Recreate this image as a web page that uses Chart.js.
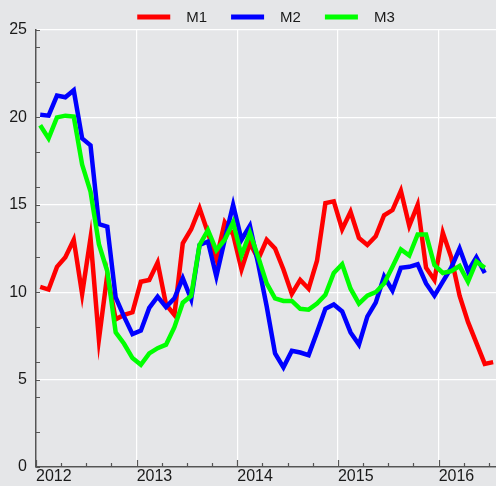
<!DOCTYPE html>
<html>
<head>
<meta charset="utf-8">
<script src="https://cdn.jsdelivr.net/npm/chart.js@4.4.1/dist/chart.umd.min.js"></script>
<style>
html, body { margin: 0; padding: 0; background: #e5e6e8; }
#wrap { width: 496px; height: 486px; position: relative; }
canvas { display: block; }
</style>
</head>
<body>
<div id="wrap"><canvas id="c" width="496" height="486"></canvas></div>
<script>
// ---- data ----
const months = [
  '2012-01','2012-02','2012-03','2012-04','2012-05','2012-06','2012-07','2012-08','2012-09','2012-10','2012-11','2012-12',
  '2013-01','2013-02','2013-03','2013-04','2013-05','2013-06','2013-07','2013-08','2013-09','2013-10','2013-11','2013-12',
  '2014-01','2014-02','2014-03','2014-04','2014-05','2014-06','2014-07','2014-08','2014-09','2014-10','2014-11','2014-12',
  '2015-01','2015-02','2015-03','2015-04','2015-05','2015-06','2015-07','2015-08','2015-09','2015-10','2015-11','2015-12',
  '2016-01','2016-02','2016-03','2016-04','2016-05','2016-06','2016-07'
];
const seriesNames = ['M1', 'M2', 'M3'];
const seriesColors = ['#ff0000', '#0000ff', '#00ff00'];
const m1 = [10.3, 10.15, 11.45, 12.0, 13.0, 9.9, 13.1, 7.3, 11.0, 8.45, 8.7, 8.85,
            10.6, 10.7, 11.7, 9.3, 8.7, 12.8, 13.6, 14.8, 13.4, 11.9, 14.0, 13.3,
            11.3, 12.8, 11.9, 13.0, 12.5, 11.3, 9.9, 10.7, 10.2, 11.8, 15.1, 15.2,
            13.6, 14.6, 13.1, 12.7, 13.2, 14.4, 14.7, 15.8, 13.8, 15.0, 11.4, 10.7,
            13.4, 12.0, 9.8, 8.3, 7.1, 5.9, 6.0];
const m2 = [20.15, 20.1, 21.25, 21.15, 21.55, 18.8, 18.4, 13.9, 13.75, 9.7, 8.6, 7.6,
            7.8, 9.1, 9.75, 9.15, 9.65, 10.8, 9.6, 12.7, 12.9, 10.9, 13.0, 15.0,
            13.0, 13.8, 11.6, 9.2, 6.5, 5.7, 6.65, 6.55, 6.4, 7.7, 9.05, 9.3,
            8.9, 7.7, 7.0, 8.6, 9.4, 10.9, 10.1, 11.4, 11.45, 11.6, 10.5, 9.8,
            10.6, 11.4, 12.5, 11.2, 12.0, 11.1];
const m3 = [19.55, 18.8, 20.0, 20.1, 20.05, 17.3, 15.75, 12.75, 11.2, 7.7, 7.05, 6.23,
            5.85, 6.5, 6.8, 7.0, 8.0, 9.4, 9.8, 12.7, 13.55, 12.4, 13.0, 14.0,
            12.1, 13.4, 12.0, 10.5, 9.65, 9.5, 9.5, 9.05, 9.0, 9.35, 9.85, 11.1,
            11.6, 10.2, 9.35, 9.8, 10.0, 10.5, 11.45, 12.45, 12.1, 13.3, 13.3, 11.55,
            11.1, 11.2, 11.5, 10.6, 11.75, 11.4];
const yearTicks = [2012, 2013, 2014, 2015, 2016];
const yTickLabels = [0, 5, 10, 15, 20, 25];
const xMin = 2012, xMax = 2016.57;
const yMin = 0, yMax = 25;

// ---- helpers ----
function monthToX(s) { const p = s.split('-').map(Number); return p[0] + (p[1] - 0.5) / 12; }
const toPoints = vals => vals.map((v, i) => ({ x: monthToX(months[i]), y: v }));
const seriesValues = [m1, m2, m3];

const FONT = '"Liberation Sans", Arial, Helvetica, sans-serif';
const BG = '#e5e6e8';
const AXIS = '#555555';
const TEXT = '#1a1a1a';

const bgPlugin = {
  id: 'bg',
  beforeDraw(chart) {
    const { ctx } = chart;
    ctx.save();
    ctx.fillStyle = BG;
    ctx.fillRect(0, 0, chart.width, chart.height);
    ctx.restore();
  }
};

const minorTicksPlugin = {
  id: 'minorTicks',
  beforeDatasetsDraw(chart) {
    const { ctx, chartArea, scales } = chart;
    const x = scales.x, y = scales.y;
    ctx.save();
    ctx.strokeStyle = AXIS;
    ctx.lineWidth = 1.2;
    ctx.beginPath();
    for (let q = xMin; q <= xMax + 1e-9; q += 0.25) {
      const px = Math.round(x.getPixelForValue(q)) + 0.5;
      const len = Math.abs(q - Math.round(q)) < 1e-6 ? 7 : 4;
      ctx.moveTo(px, chartArea.bottom);
      ctx.lineTo(px, chartArea.bottom - len);
    }
    for (let v = yMin; v <= yMax + 1e-9; v += 1) {
      if (v % 2 !== 0 && v % 5 !== 0) continue;
      const py = Math.round(y.getPixelForValue(v)) + 0.5;
      ctx.moveTo(chartArea.left, py);
      ctx.lineTo(chartArea.left + 4, py);
    }
    ctx.stroke();
    ctx.restore();
  }
};

const legendPlugin = {
  id: 'customLegend',
  afterDraw(chart) {
    const { ctx, chartArea } = chart;
    const ds = chart.data.datasets;
    ctx.save();
    ctx.font = '15px ' + FONT;
    const boxW = 33, boxH = 5, gapText = 16, gapItem = 24;
    const widths = ds.map(d => ctx.measureText(d.label).width);
    let total = 0;
    widths.forEach((w, i) => { total += boxW + gapText + w + (i < widths.length - 1 ? gapItem : 0); });
    let x = (chartArea.left + chartArea.right) / 2 - total / 2;
    const yc = 17;
    ctx.textBaseline = 'middle';
    ctx.textAlign = 'left';
    ds.forEach((d, i) => {
      ctx.fillStyle = d.borderColor;
      ctx.fillRect(x, yc - boxH / 2, boxW, boxH);
      ctx.fillStyle = TEXT;
      ctx.fillText(d.label, x + boxW + gapText, yc + 0.5);
      x += boxW + gapText + widths[i] + gapItem;
    });
    ctx.restore();
  }
};

new Chart(document.getElementById('c'), {
  type: 'line',
  data: {
    datasets: seriesNames.map((name, i) => ({
      label: name,
      data: toPoints(seriesValues[i]),
      borderColor: seriesColors[i],
      backgroundColor: seriesColors[i],
      borderWidth: 4.5,
      pointRadius: 0,
      pointHoverRadius: 0,
      tension: 0,
      fill: false,
      borderJoinStyle: 'miter',
      borderCapStyle: 'butt',
      order: 3 - i
    }))
  },
  options: {
    responsive: false,
    devicePixelRatio: 1,
    animation: false,
    layout: { padding: { top: 30, left: 0, right: 0, bottom: 0 } },
    plugins: {
      legend: { display: false },
      tooltip: { enabled: false }
    },
    scales: {
      x: {
        type: 'linear',
        min: xMin,
        max: xMax,
        afterFit(scale) { scale.height = 19; },
        afterBuildTicks(scale) { scale.ticks = yearTicks.map(v => ({ value: v })); },
        border: { display: true, color: AXIS, width: 1.5 },
        grid: {
          color: '#ffffff',
          lineWidth: 1.2,
          drawTicks: false
        },
        ticks: {
          align: 'start',
          padding: 0,
          maxRotation: 0,
          autoSkip: false,
          color: TEXT,
          font: { family: FONT, size: 16 },
          callback: v => String(v)
        }
      },
      y: {
        min: yMin,
        max: yMax,
        afterFit(scale) { scale.width = 36; },
        afterBuildTicks(scale) { scale.ticks = yTickLabels.map(v => ({ value: v })); },
        border: { display: true, color: AXIS, width: 1.5 },
        grid: {
          color: '#ffffff',
          lineWidth: 1.2,
          drawTicks: false
        },
        ticks: {
          padding: 9,
          color: TEXT,
          font: { family: FONT, size: 16 },
          callback: v => String(v)
        }
      }
    }
  },
  plugins: [bgPlugin, minorTicksPlugin, legendPlugin]
});
</script>
</body>
</html>
